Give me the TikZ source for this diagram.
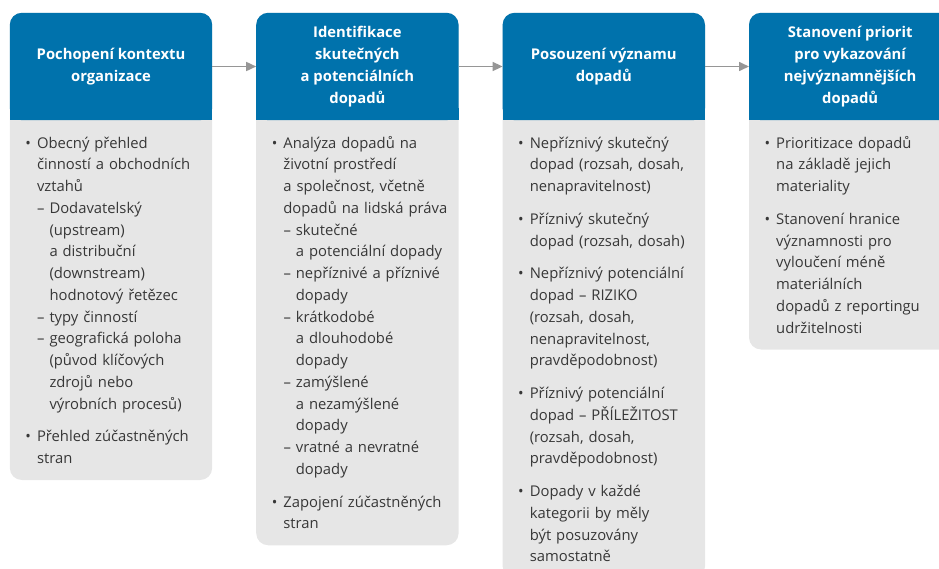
\documentclass[tikz,border=0pt]{standalone}
\usepackage{fontspec}
\setmainfont{Open Sans}
\usepackage{enumitem}
\usetikzlibrary{positioning,arrows.meta,backgrounds}

\definecolor{hlavicka}{RGB}{0,114,172}
\definecolor{telo}{RGB}{230,230,230}
\definecolor{textgrey}{RGB}{55,55,55}
\definecolor{sipka}{RGB}{150,150,150}

\setlist[itemize,1]{label=\textbullet,leftmargin=11pt,labelsep=6pt,itemsep=11pt,topsep=0pt,parsep=0pt,partopsep=0pt}
\setlist[itemize,2]{label=\textendash,leftmargin=12.5pt,labelsep=5pt,itemsep=0pt,topsep=0pt,parsep=0pt,partopsep=0pt}

\begin{document}
\begin{tikzpicture}[
  x=1pt, y=-1pt,
  head/.style={minimum width=202pt, minimum height=107pt, inner sep=0pt,
    align=center, text=white, font=\fontsize{14.8}{21.75}\selectfont\bfseries},
  body/.style={anchor=north west, inner xsep=16pt, inner ysep=16pt,
    text width=180pt, text=textgrey, font=\fontsize{14.8}{21.75}\selectfont,
    execute at begin node=\raggedright},
  flow/.style={draw=sipka, line width=1.6pt, -{Triangle[length=10pt,width=9pt]}}
  ]
  \useasboundingbox (0,0) rectangle (939,568);

  \node [head] (kontext) at (111,66.5) {Pochopení kontextu\\organizace};
  \node [head, right=44pt of kontext] (identif) {Identifikace\\skutečných\\a potenciálních\\dopadů};
  \node [head, right=44pt of identif] (posouz) {Posouzení významu\\dopadů};
  \node [head, right=44pt of posouz] (stanov) {Stanovení priorit\\pro vykazování\\nejvýznamnějších\\dopadů};

  \node [body] (kontext-b) at ([yshift=10pt]kontext.south west) {%
    \begin{itemize}
    \item Obecný přehled\\činností a obchodních\\vztahů
      \begin{itemize}
      \item Dodavatelský\\(upstream)\\a distribuční\\(downstream)\\hodnotový řetězec
      \item typy činností
      \item geografická poloha\\(původ klíčových\\zdrojů nebo\\výrobních procesů)
      \end{itemize}
    \item Přehled zúčastněných\\stran
    \end{itemize}};
  \node [body] (identif-b) at ([yshift=10pt]identif.south west) {%
    \begin{itemize}
    \item Analýza dopadů na\\životní prostředí\\a společnost, včetně\\dopadů na lidská práva
      \begin{itemize}
      \item skutečné\\a potenciální dopady
      \item nepříznivé a příznivé\\dopady
      \item krátkodobé\\a dlouhodobé\\dopady
      \item zamýšlené\\a nezamýšlené\\dopady
      \item vratné a nevratné\\dopady
      \end{itemize}
    \item Zapojení zúčastněných\\stran
    \end{itemize}};
  \node [body] (posouz-b) at ([yshift=10pt]posouz.south west) {%
    \begin{itemize}
    \item Nepříznivý skutečný\\dopad (rozsah, dosah,\\nenapravitelnost)
    \item Příznivý skutečný\\dopad (rozsah, dosah)
    \item Nepříznivý potenciální\\dopad – RIZIKO\\(rozsah, dosah,\\nenapravitelnost,\\pravděpodobnost)
    \item Příznivý potenciální\\dopad – PŘÍLEŽITOST\\(rozsah, dosah,\\pravděpodobnost)
    \item Dopady v každé\\kategorii by měly\\být posuzovány\\samostatně
    \end{itemize}};
  \node [body] (stanov-b) at ([yshift=10pt]stanov.south west) {%
    \begin{itemize}
    \item Prioritizace dopadů\\na základě jejich\\materiality
    \item Stanovení hranice\\významnosti pro\\vyloučení méně\\materiálních\\dopadů z reportingu\\udržitelnosti
    \end{itemize}};

  % boxes behind the text
  \begin{scope}[on background layer]
    \foreach \k in {kontext, identif, posouz, stanov} {
      \fill [telo, rounded corners=12pt] (\k.north west) rectangle (\k-b.south -| \k.east);
      \fill [hlavicka, rounded corners=12pt] (\k.north west) rectangle (\k.south east);
      \fill [hlavicka] ([yshift=12pt]\k.south west) rectangle (\k.south east);
    }
  \end{scope}

  \draw [flow] (kontext.east) -- (identif.west);
  \draw [flow] (identif.east) -- (posouz.west);
  \draw [flow] (posouz.east) -- (stanov.west);
\end{tikzpicture}
\end{document}
